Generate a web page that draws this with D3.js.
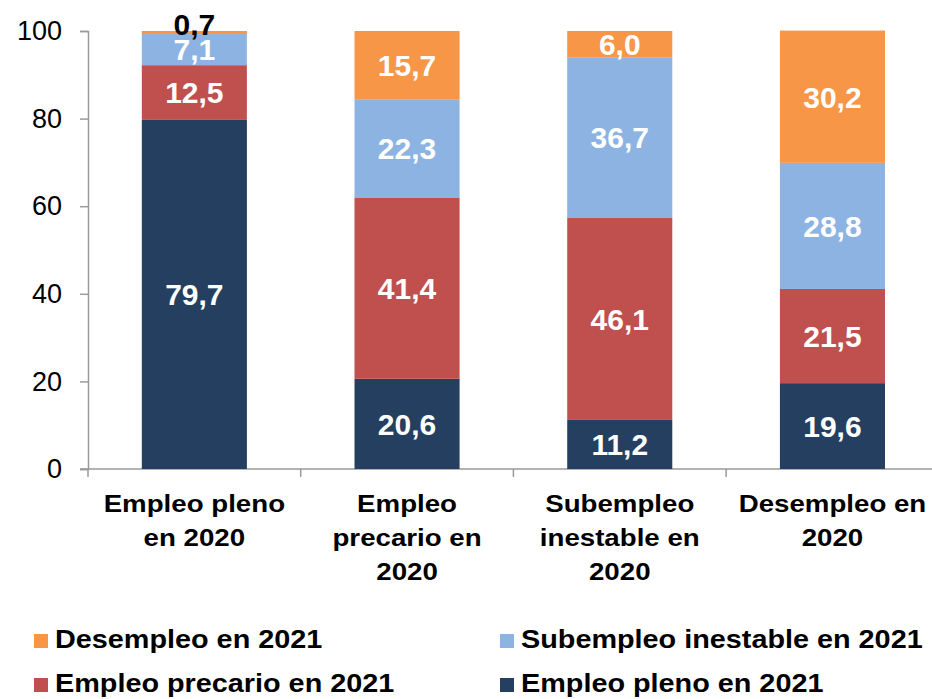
<!DOCTYPE html>
<html>
<head>
<meta charset="utf-8">
<script src="https://cdn.jsdelivr.net/npm/d3@7"></script>
<style>
  body { margin: 0; background: #fff; }
  svg { display: block; font-family: "Liberation Sans", Arial, sans-serif; }
</style>
</head>
<body>
<script>
// data
var categories = ["Empleo pleno en 2020", "Empleo precario en 2020", "Subempleo inestable en 2020", "Desempleo en 2020"];
var categoryLines = [["Empleo pleno", "en 2020"], ["Empleo", "precario en", "2020"], ["Subempleo", "inestable en", "2020"], ["Desempleo en", "2020"]];
var seriesNames = ["Empleo pleno en 2021", "Empleo precario en 2021", "Subempleo inestable en 2021", "Desempleo en 2021"];
var plenoValues = [79.7, 20.6, 11.2, 19.6];
var precarioValues = [12.5, 41.4, 46.1, 21.5];
var subempleoValues = [7.1, 22.3, 36.7, 28.8];
var desempleoValues = [0.7, 15.7, 6.0, 30.2];
var yTicks = [0, 20, 40, 60, 80, 100];
var colors = ["#243F60", "#C0504D", "#8DB3E2", "#F79646"];
var legendOrder = [3, 2, 1, 0];

var W = 932, H = 699;
var svg = d3.select("body").append("svg").attr("width", W).attr("height", H);

var rows = categories.map(function(c, i) {
  var r = { cat: c };
  r[seriesNames[0]] = plenoValues[i];
  r[seriesNames[1]] = precarioValues[i];
  r[seriesNames[2]] = subempleoValues[i];
  r[seriesNames[3]] = desempleoValues[i];
  return r;
});

var stacked = d3.stack().keys(seriesNames)(rows);

var x = d3.scaleBand().domain(categories).range([88, 938.8]).paddingInner(0.506).paddingOuter(0.253);
var y = d3.scaleLinear().domain([0, 100]).range([469, 31]);

// y axis
var yAxis = svg.append("g").attr("transform", "translate(88,0)")
  .call(d3.axisLeft(y).tickValues(yTicks).tickSize(8).tickPadding(18));
yAxis.select(".domain").attr("stroke", "#9a9a9a").attr("stroke-width", 1.5);
yAxis.selectAll(".tick line").attr("stroke", "#9a9a9a").attr("stroke-width", 1.5);
yAxis.selectAll(".tick text").attr("font-size", 27).attr("fill", "#000")
  .attr("font-family", "'Liberation Sans', Arial, sans-serif");

// x axis line + boundary ticks
svg.append("line").attr("x1", 80).attr("x2", W).attr("y1", y(0)).attr("y2", y(0))
  .attr("stroke", "#9a9a9a").attr("stroke-width", 1.5);
var bounds = categories.map(function(c) { return x(c) + x.bandwidth() / 2 - x.step() / 2; });
bounds.push(bounds[bounds.length - 1] + x.step());
svg.selectAll(".xtick").data(bounds).enter().append("line")
  .attr("x1", function(d) { return d; }).attr("x2", function(d) { return d; })
  .attr("y1", y(0)).attr("y2", y(0) + 8)
  .attr("stroke", "#9a9a9a").attr("stroke-width", 1.5);

// bars
var layers = svg.selectAll(".layer").data(stacked).enter().append("g")
  .attr("fill", function(d, i) { return colors[i]; });
layers.selectAll("rect").data(function(d) { return d; }).enter().append("rect")
  .attr("x", function(d) { return x(d.data.cat); })
  .attr("width", x.bandwidth())
  .attr("y", function(d) { return y(d[1]); })
  .attr("height", function(d) { return y(d[0]) - y(d[1]); });

// value labels
layers.selectAll("text").data(function(d) { return d.map(function(p) { return { p: p, key: d.key }; }); })
  .enter().append("text")
  .attr("x", function(d) { return x(d.p.data.cat) + x.bandwidth() / 2; })
  .attr("y", function(d) {
    var v = d.p[1] - d.p[0];
    var cy = (y(d.p[0]) + y(d.p[1])) / 2;
    return v < 2 ? cy - 8 : cy;
  })
  .attr("dy", "0.36em")
  .attr("text-anchor", "middle")
  .attr("font-size", 30).attr("font-weight", "bold")
  .attr("fill", function(d) { return (d.p[1] - d.p[0]) < 2 ? "#000" : "#fff"; })
  .text(function(d) { return d3.format(".1f")(d.p[1] - d.p[0]).replace(".", ","); });

// category labels
categories.forEach(function(c, i) {
  var g = svg.append("g")
    .attr("transform", "translate(" + (x(c) + x.bandwidth() / 2) + ",512) scale(1.13,1)");
  g.selectAll("text").data(categoryLines[i]).enter().append("text")
    .attr("x", 0).attr("y", function(d, j) { return j * 34; })
    .attr("text-anchor", "middle")
    .attr("font-size", 24.5).attr("font-weight", "bold").attr("fill", "#000")
    .text(function(d) { return d; });
});

// legend
var legPos = [[34, 648], [500, 648], [34, 692], [500, 692]];
legendOrder.forEach(function(si, k) {
  var p = legPos[k];
  svg.append("rect").attr("x", p[0]).attr("y", p[1] - 14).attr("width", 14).attr("height", 14)
    .attr("fill", colors[si]);
  svg.append("g").attr("transform", "translate(" + (p[0] + 21) + "," + p[1] + ") scale(1.13,1)")
    .append("text").attr("font-size", 25.5).attr("font-weight", "bold").attr("fill", "#000")
    .text(seriesNames[si]);
});
</script>
</body>
</html>
